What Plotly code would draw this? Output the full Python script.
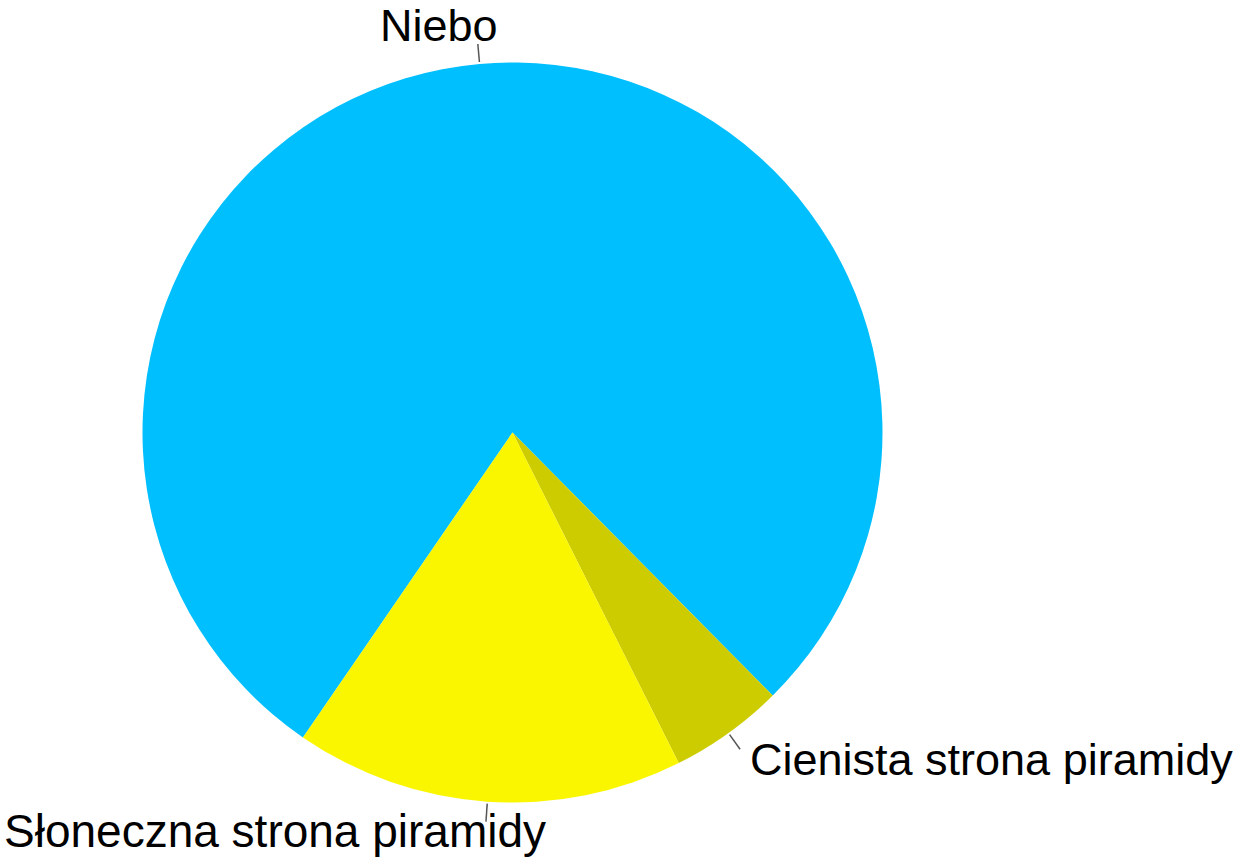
import math
import plotly.graph_objects as go

# slice data (clockwise from the start angle)
labels = ["Niebo", "Cienista strona piramidy", "Słoneczna strona piramidy"]
values = [78, 5, 17]
colors = ["#00BFFF", "#CCCC00", "#FAF600"]

# page / pie geometry in pixels
W, H = 1236, 864
cx, cy, r = 512.5, 432.5, 370
start = 214.5  # degrees clockwise from 12 o'clock

# label placement relative to the end of each leader line (px)
label_style = [
    dict(xshift=-39, yshift=19, xanchor="center", font=dict(size=45)),
    dict(xshift=8, yshift=-10, xanchor="left", font=dict(size=45)),
    dict(xshift=-211, yshift=-9, xanchor="center", font=dict(size=46)),
]

fig = go.Figure(go.Pie(
    labels=labels,
    values=values,
    sort=False,
    direction="clockwise",
    rotation=start,
    marker=dict(colors=colors, line=dict(width=0)),
    textinfo="none",
    hoverinfo="label+percent",
    showlegend=False,
    domain=dict(x=[(cx - r) / W, (cx + r) / W], y=[1 - (cy + r) / H, 1 - (cy - r) / H]),
))

# leader lines + labels, placed at the middle angle of each slice
total = sum(values)
angle = start
shapes, annotations = [], []
for lab, v, st in zip(labels, values, label_style):
    mid = math.radians(angle + v / total * 180)
    angle += v / total * 360
    x0, y0 = cx + (r + 2) * math.sin(mid), cy - (r + 2) * math.cos(mid)
    x1, y1 = cx + (r + 20) * math.sin(mid), cy - (r + 20) * math.cos(mid)
    shapes.append(dict(type="line", xref="paper", yref="paper",
                       x0=x0 / W, y0=1 - y0 / H, x1=x1 / W, y1=1 - y1 / H,
                       line=dict(color="#555555", width=1.5)))
    annotations.append(dict(text=lab, xref="paper", yref="paper",
                            x=x1 / W, y=1 - y1 / H, yanchor="middle",
                            showarrow=False, **st))

fig.update_layout(
    width=W, height=H,
    margin=dict(l=0, r=0, t=0, b=0),
    paper_bgcolor="white",
    font=dict(family="Liberation Sans, Arial", size=45, color="black"),
    shapes=shapes,
    annotations=annotations,
)

# drop the default 8px body margin so the figure fills the window
fig.write_html("out.html", config={"displayModeBar": False},
               post_script="document.body.style.margin='0';")
